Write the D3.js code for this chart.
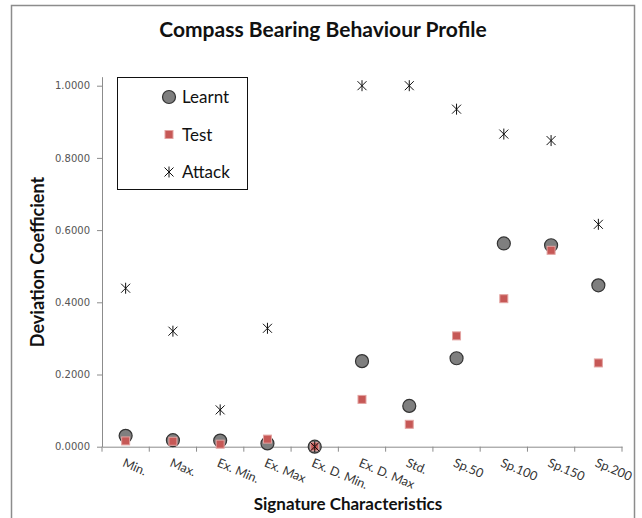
<!DOCTYPE html>
<html>
<head>
<meta charset="utf-8">
<script src="https://cdn.jsdelivr.net/npm/d3@7/dist/d3.min.js"></script>
<style>
  body { margin: 0; background: #fff; }
  svg text { font-family: Lato, "Open Sans", sans-serif; }
</style>
</head>
<body>
<div id="chart"></div>
<script>
var categories = ["Min.", "Max.", "Ex. Min.", "Ex. Max", "Ex. D. Min.", "Ex. D. Max", "Std.", "Sp.50", "Sp.100", "Sp.150", "Sp.200"]
var learnt = [0.030, 0.018, 0.017, 0.009, 0.000, 0.237, 0.113, 0.245, 0.563, 0.558, 0.447]
var test   = [0.016, 0.015, 0.007, 0.021, 0.000, 0.131, 0.062, 0.307, 0.410, 0.544, 0.232]
var attack = [0.439, 0.320, 0.102, 0.328, 0.000, 1.000, 1.000, 0.935, 0.866, 0.848, 0.616]
var yTicks = [0, 0.2, 0.4, 0.6, 0.8, 1.0]

var width = 642, height = 518
var margin = { top: 77, right: 20, bottom: 71, left: 102 }

var svg = d3.select("#chart")
  .append("svg")
    .attr("width", width)
    .attr("height", height)

// outer chart border
svg.append("rect")
  .attr("x", 11.5)
  .attr("y", 5.5)
  .attr("width", 623)
  .attr("height", 530)
  .attr("fill", "none")
  .attr("stroke", "#8c8c8c")
  .attr("stroke-width", 1.5)

var x = d3.scaleBand()
  .domain(categories)
  .range([margin.left, width - margin.right])

var y = d3.scaleLinear()
  .domain([0, 1.025])
  .range([446.7, 446.7 - 1.025 * 361])

// Y axis
var yAxis = svg.append("g")
  .attr("transform", "translate(" + margin.left + ",0)")
  .call(d3.axisLeft(y).tickValues(yTicks).tickSize(5).tickSizeOuter(0)
    .tickFormat(d3.format(".4f")))
yAxis.select(".domain").attr("stroke", "#8c8c8c")
yAxis.selectAll(".tick line").attr("stroke", "#8c8c8c")
yAxis.selectAll(".tick text")
  .attr("x", -12)
  .style("font-family", "'DejaVu Sans', Verdana, sans-serif")
  .style("font-size", "10px")
  .style("fill", "#555")

// X axis (ticks at category boundaries)
var xAxis = svg.append("g")
  .attr("transform", "translate(0," + y(0) + ")")
  .call(d3.axisBottom(x).tickSize(0).tickFormat(""))
xAxis.select(".domain").attr("stroke", "#8c8c8c")
xAxis.selectAll(".tick").remove()
xAxis.selectAll("line.bound")
  .data(categories.concat(["end"]))
  .enter()
  .append("line")
    .attr("class", "bound")
    .attr("x1", function(d, i) { return margin.left + i * x.step() })
    .attr("x2", function(d, i) { return margin.left + i * x.step() })
    .attr("y1", 0)
    .attr("y2", 5)
    .attr("stroke", "#8c8c8c")

// rotated category labels
svg.append("g")
  .selectAll("text")
  .data(categories)
  .enter()
  .append("text")
    .attr("transform", function(d) {
      return "translate(" + (x(d) + x.bandwidth() / 2 - 4) + "," + 466 + ") rotate(23)"
    })
    .style("font-size", "12.5px")
    .style("fill", "#333")
    .text(function(d) { return d })

// Title
svg.append("text")
  .attr("x", 323)
  .attr("y", 37)
  .attr("text-anchor", "middle")
  .style("font-size", "21px")
  .style("font-weight", "bold")
  .style("fill", "#111")
  .text("Compass Bearing Behaviour Profile")

// Axis titles
svg.append("text")
  .attr("transform", "translate(44," + 262 + ") rotate(-90)")
  .attr("text-anchor", "middle")
  .style("font-size", "18px")
  .style("font-weight", "bold")
  .style("fill", "#111")
  .text("Deviation Coefficient")

svg.append("text")
  .attr("x", 348)
  .attr("y", 510)
  .attr("text-anchor", "middle")
  .style("font-size", "17px")
  .style("font-weight", "bold")
  .style("fill", "#111")
  .text("Signature Characteristics")

var cx = function(d, i) { return x(categories[i]) + x.bandwidth() / 2 }

var drawCircle = function(sel) {
  sel.attr("r", 6.5)
    .attr("fill", "#7f7f7f")
    .attr("stroke", "#333")
    .attr("stroke-width", 1.2)
}
var drawSquare = function(sel) {
  sel.attr("width", 8)
    .attr("height", 8)
    .attr("fill", "#c65856")
    .attr("stroke", "#e3a3a1")
    .attr("stroke-width", 1)
}
var starPath = "M-4.5,-4.5L4.5,4.5M-4.5,4.5L4.5,-4.5M0,-5.5L0,5.5"
var drawStar = function(sel) {
  sel.attr("d", starPath)
    .attr("fill", "none")
    .attr("stroke", "#111")
    .attr("stroke-width", 1)
}

// Learnt
svg.append("g")
  .selectAll("circle")
  .data(learnt)
  .enter()
  .append("circle")
    .attr("cx", cx)
    .attr("cy", function(d) { return y(d) })
    .call(drawCircle)

// Test
svg.append("g")
  .selectAll("rect")
  .data(test)
  .enter()
  .append("rect")
    .attr("x", function(d, i) { return cx(d, i) - 4 })
    .attr("y", function(d) { return y(d) - 4 })
    .call(drawSquare)

// Attack
svg.append("g")
  .selectAll("path")
  .data(attack)
  .enter()
  .append("path")
    .attr("transform", function(d, i) { return "translate(" + cx(d, i) + "," + y(d) + ")" })
    .call(drawStar)

// Legend
var legend = svg.append("g")
legend.append("rect")
  .attr("x", 117.5)
  .attr("y", 77.5)
  .attr("width", 130)
  .attr("height", 112)
  .attr("fill", "#fff")
  .attr("stroke", "#111")
  .attr("stroke-width", 1)

var legendItems = ["Learnt", "Test", "Attack"]
var legendY = d3.scalePoint().domain(legendItems).range([97, 172])

legend.append("circle")
  .attr("cx", 169)
  .attr("cy", legendY("Learnt"))
  .call(drawCircle)
legend.append("rect")
  .attr("x", 165)
  .attr("y", legendY("Test") - 4)
  .call(drawSquare)
legend.append("path")
  .attr("transform", "translate(169," + legendY("Attack") + ")")
  .call(drawStar)

legend.selectAll("text")
  .data(legendItems)
  .enter()
  .append("text")
    .attr("x", 182)
    .attr("y", function(d) { return legendY(d) + 6 })
    .style("font-size", "17px")
    .style("fill", "#111")
    .text(function(d) { return d })
</script>
</body>
</html>
